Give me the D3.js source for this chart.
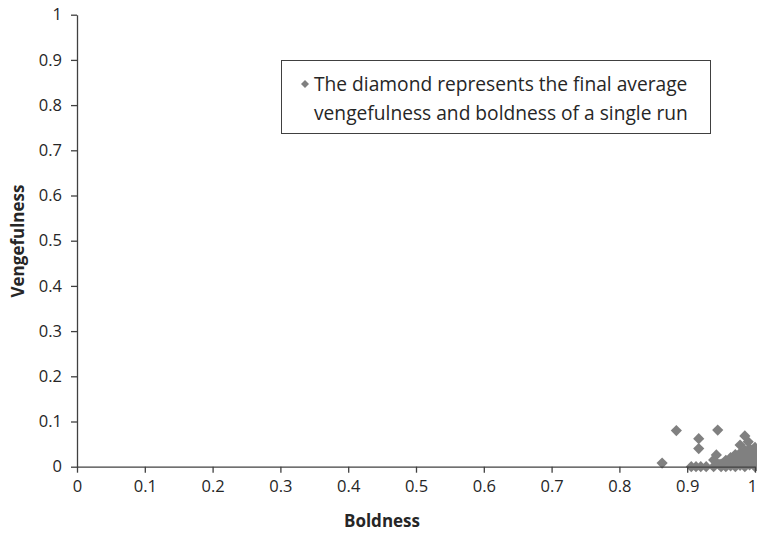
<!DOCTYPE html>
<html>
<head>
<meta charset="utf-8">
<script src="https://cdn.jsdelivr.net/npm/d3@7"></script>
<style>
  body { margin: 0; background: #fff; }
  svg { display: block; font-family: "Open Sans", sans-serif; }
</style>
</head>
<body>
<div id="chart"></div>
<script>
// final average boldness / vengefulness of each run
const boldness = [
  0.863, 0.884, 0.917, 0.917, 0.945, 0.985, 0.990, 0.978, 0.943, 0.939,
  0.906, 0.913, 0.920, 0.928, 0.939, 0.947,
  0.950, 0.950,
  0.957, 0.957, 0.957,
  0.964, 0.964, 0.964,
  0.971, 0.971, 0.971, 0.971,
  0.978, 0.978, 0.978, 0.978,
  0.985, 0.985, 0.985, 0.985, 0.985,
  0.992, 0.992, 0.992, 0.992, 0.992,
  1.000, 1.000, 1.000, 1.000, 1.000, 1.000
];
const vengefulness = [
  0.008, 0.080, 0.062, 0.040, 0.081, 0.068, 0.055, 0.048, 0.026, 0.015,
  0.000, 0.000, 0.000, 0.000, 0.000, 0.005,
  0.000, 0.006,
  0.000, 0.008, 0.014,
  0.002, 0.010, 0.020,
  0.000, 0.009, 0.018, 0.027,
  0.003, 0.012, 0.021, 0.030,
  0.000, 0.009, 0.018, 0.027, 0.036,
  0.004, 0.013, 0.022, 0.031, 0.040,
  0.000, 0.009, 0.018, 0.027, 0.036, 0.043
];
const xTicks = [0, 0.1, 0.2, 0.3, 0.4, 0.5, 0.6, 0.7, 0.8, 0.9, 1];
const yTicks = [0, 0.1, 0.2, 0.3, 0.4, 0.5, 0.6, 0.7, 0.8, 0.9, 1];
const legendLines = [
  "The diamond represents the final average",
  "vengefulness and boldness of a single run"
];

const points = boldness.map((b, i) => ({ x: b, y: vengefulness[i] }));

const width = 757;
const height = 533;
const marginTop = 14.7;
const marginRight = 2;
const marginBottom = 66.3;
const marginLeft = 77;

const axisColor = "#404040";
const textColor = "#262626";
const pointColor = "#808080";
const labelSize = 16.5;

const x = d3.scaleLinear([0, 1], [marginLeft, width - marginRight]);
const y = d3.scaleLinear([0, 1], [height - marginBottom, marginTop]);

const svg = d3.select("#chart").append("svg")
    .attr("width", width)
    .attr("height", height)
    .attr("viewBox", [0, 0, width, height]);

// diamond marker: square turned 45 degrees
const diamond = r => `M0,${-r}L${r},0L0,${r}L${-r},0Z`;

// points first so the axes sit on top like in the original
svg.append("g")
  .selectAll("path")
  .data(points)
  .join("path")
    .attr("d", diamond(5.6))
    .attr("transform", d => `translate(${x(d.x)},${y(d.y)})`)
    .attr("fill", pointColor);

// style an axis after d3 has drawn it
function styleAxis(g) {
  g.attr("font-size", labelSize).attr("font-family", "Open Sans, sans-serif");
  g.select(".domain").attr("stroke", axisColor).attr("stroke-width", 1.3);
  g.selectAll(".tick line").attr("stroke", axisColor).attr("stroke-width", 1.3);
  g.selectAll(".tick text").attr("fill", textColor);
}

// x axis
svg.append("g")
    .attr("transform", `translate(0,${y(0)})`)
    .call(d3.axisBottom(x).tickValues(xTicks).tickFormat(d3.format("~g")).tickSize(6).tickSizeOuter(0).tickPadding(8))
    .call(styleAxis)
    // keep the "1" inside the picture
    .call(g => g.selectAll(".tick text").filter(d => d === 1).attr("dx", -3));

// y axis
svg.append("g")
    .attr("transform", `translate(${x(0)},0)`)
    .call(d3.axisLeft(y).tickValues(yTicks).tickFormat(d3.format("~g")).tickSize(6).tickSizeOuter(0).tickPadding(9))
    .call(styleAxis);

// axis titles
svg.append("text")
    .attr("x", 382)
    .attr("y", 527)
    .attr("text-anchor", "middle")
    .attr("font-weight", "bold")
    .attr("font-size", 17)
    .attr("fill", textColor)
    .text("Boldness");

svg.append("text")
    .attr("transform", `translate(24,241) rotate(-90)`)
    .attr("text-anchor", "middle")
    .attr("font-weight", "bold")
    .attr("font-size", 17)
    .attr("fill", textColor)
    .text("Vengefulness");

// legend
const legend = svg.append("g");
legend.append("rect")
    .attr("x", 281.5)
    .attr("y", 60.5)
    .attr("width", 429)
    .attr("height", 73)
    .attr("fill", "#fff")
    .attr("stroke", axisColor)
    .attr("stroke-width", 1);

legend.append("path")
    .attr("d", diamond(4))
    .attr("transform", "translate(305,84)")
    .attr("fill", pointColor);

legend.selectAll("text.leg")
  .data(legendLines)
  .join("text")
    .attr("class", "leg")
    .attr("x", 314)
    .attr("y", (d, i) => 91 + i * 29)
    .attr("font-size", 19.2)
    .attr("fill", textColor)
    .text(d => d);
</script>
</body>
</html>
